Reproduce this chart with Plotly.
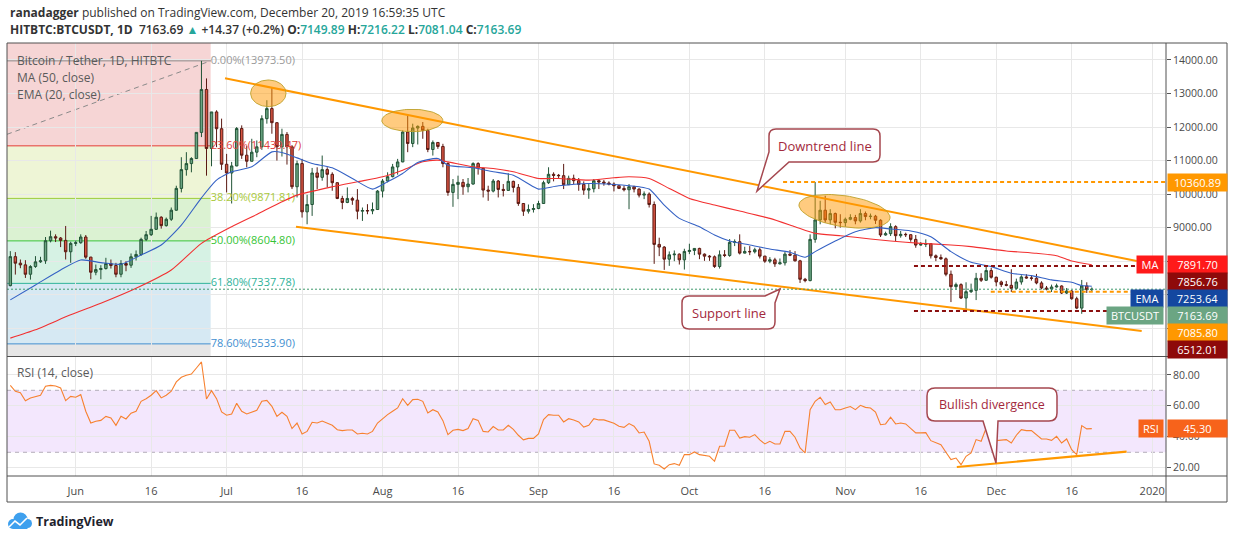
import numpy as np
import pandas as pd
import plotly.graph_objects as go

# ---- data (HITBTC BTCUSDT, daily) ----
first_day = "2019-05-19"

open_ = [
    7270, 8135, 7940, 7890, 7610, 7840, 7980, 8010, 8610, 8730, 8690, 8620, 8280,
    8530, 8550, 8720, 8120, 7670, 7750, 7780, 7930, 7870, 7610, 7930, 7880, 8130, 8200, 8650,
    8790, 8950, 9310, 9060, 9250, 9520, 10170, 10730, 10910, 11060, 11840, 13120, 11360, 12450, 11950,
    10890, 10630, 10840, 11955, 11160, 10980, 11250, 11410, 12250, 12550, 12130, 11410, 11780, 11410, 10220,
    10910, 9470, 9690, 10630, 10500, 10730, 10590, 10340, 9870, 9750, 9870, 9820, 9490, 9510, 9500, 9540,
    10090, 10390, 10520, 10810, 10960, 11850, 11510, 11970, 12020, 11900, 11330, 11540, 11420, 10910, 10050,
    10290, 10350, 10220, 10300, 10910, 10770, 10120, 10090, 10390, 10140, 10110, 10380, 10200, 9720, 9490, 9540,
    9570, 9720, 10340, 10590, 10560, 10550, 10280, 10470, 10400, 10290, 10120, 10160, 10400, 10360, 10330,
    10300, 10250, 10170, 10130, 10220, 10150, 9970, 10000, 9690, 8500, 8420, 8060, 8190, 8210, 8040,
    8290, 8320, 8380, 8210, 8150, 8130, 7840, 8190, 8170, 8560, 8580, 8240, 8290, 8280, 8340,
    8150, 8000, 8040, 7920, 7950, 8210, 8180, 8010, 7460, 7420, 8650, 9230, 9520, 9230, 9420, 9160,
    9150, 9250, 9300, 9200, 9420, 9330, 9340, 9220, 8780, 8820, 9030, 8760, 8800, 8790, 8650,
    8480, 8500, 8520, 8160, 8110, 8070, 7610, 7240, 7300, 6900, 7090, 7130, 7490, 7430, 7720,
    7520, 7380, 7300, 7280, 7190, 7380, 7530, 7500, 7490, 7350, 7200, 7170, 7230, 7260, 7050,
    7110, 6880, 6600, 7260, 7149.89,
]
high = [
    8300, 8270, 8050, 8030, 7880, 8150, 8130, 8720, 8910, 8800, 8720, 9050, 8580,
    8620, 8800, 8780, 8130, 7900, 7880, 8100, 8050, 7950, 8030, 8000, 8230, 8320, 8700, 8900,
    9350, 9450, 9340, 9300, 9600, 10250, 11100, 11250, 11100, 11850, 13973.5, 13450, 12450, 12500, 12250,
    11200, 10960, 12000, 12050, 11430, 11650, 11600, 12350, 12800, 13163, 12140, 11950, 11850, 11460, 11000,
    11050, 9980, 10780, 10800, 11150, 10800, 10650, 10350, 9950, 10200, 9920, 10150, 9600, 9700, 9750, 10120,
    10450, 10650, 10900, 11050, 11900, 12350, 12100, 12050, 12150, 11950, 11600, 11550, 11500, 10950, 10450,
    10550, 10450, 10480, 10950, 10950, 10780, 10250, 10450, 10420, 10300, 10620, 10400, 10300, 9730, 9690, 9700,
    9800, 10400, 10800, 10650, 10600, 10900, 10550, 10580, 10480, 10380, 10300, 10450, 10450, 10420, 10380,
    10350, 10270, 10250, 10300, 10250, 10170, 10080, 10050, 9780, 8700, 8450, 8290, 8320, 8230, 8370,
    8520, 8390, 8400, 8230, 8180, 8170, 8320, 8330, 8660, 8650, 8800, 8430, 8450, 8400, 8410,
    8160, 8120, 8100, 8080, 8280, 8330, 8300, 8040, 7500, 8800, 10360.89, 9800, 9950, 9550, 9450, 9400,
    9300, 9400, 9380, 9550, 9480, 9420, 9380, 9250, 8880, 9130, 9070, 8900, 8850, 8800, 8780,
    8570, 8650, 8530, 8200, 8200, 8110, 7720, 7360, 7340, 7370, 7330, 7650, 7640, 7880, 7800,
    7540, 7420, 7410, 7760, 7480, 7580, 7610, 7560, 7620, 7400, 7260, 7300, 7330, 7280, 7200,
    7140, 6940, 7440, 7370, 7216.22,
]
low = [
    7250, 7600, 7790, 7500, 7450, 7800, 7950, 7920, 8560, 8570, 8420, 8050, 7950,
    8450, 8520, 8070, 7460, 7580, 7460, 7750, 7780, 7520, 7520, 7700, 7800, 8020, 8160, 8600,
    8750, 8930, 8970, 9030, 9200, 9500, 10050, 10550, 10650, 11050, 11700, 10550, 10830, 11400, 10720,
    10050, 9720, 10830, 11050, 10800, 10970, 11100, 11320, 12100, 11800, 11000, 11120, 10880, 10150, 9900,
    9300, 9100, 9350, 10150, 10400, 10200, 10100, 9850, 9550, 9730, 9680, 9250, 9200, 9400, 9400, 9530,
    9900, 10350, 10500, 10580, 10950, 11250, 11400, 11480, 11650, 11250, 11150, 11350, 10800, 9950, 9620,
    9850, 9980, 10050, 10280, 10580, 9900, 9800, 10050, 9900, 9930, 10100, 10050, 9650, 9350, 9420, 9450,
    9550, 9710, 10300, 10380, 10450, 10150, 10270, 10300, 10100, 9980, 9860, 10050, 10150, 10250, 10260,
    10080, 10150, 10080, 9550, 10050, 9900, 9850, 9600, 7920, 8150, 7740, 7860, 8000, 7900, 7750,
    8210, 8180, 8060, 8010, 8010, 7800, 7780, 8120, 8130, 8450, 8200, 8230, 8180, 8230, 8080,
    7950, 7940, 7830, 7900, 7870, 8150, 7990, 7350, 7370, 7400, 8550, 9100, 9150, 9100, 8980, 9000,
    9030, 9220, 9100, 9150, 9220, 9250, 9110, 8720, 8760, 8750, 8600, 8700, 8720, 8580, 8400,
    8460, 8420, 8080, 8000, 8040, 7550, 6780, 7150, 6870, 6512.01, 7050, 6840, 7380, 7410, 7480,
    7250, 7230, 7250, 7080, 7160, 7300, 7480, 7420, 7310, 7160, 7130, 7080, 7210, 7020, 7020,
    6850, 6570, 6430, 7050, 7081.04,
]
close = [
    8135, 7940, 7890, 7610, 7840, 7980, 8010, 8610, 8730, 8690, 8620, 8280, 8530,
    8550, 8720, 8120, 7670, 7750, 7780, 7930, 7870, 7610, 7930, 7880, 8130, 8200, 8650, 8790,
    8950, 9310, 9060, 9250, 9520, 10170, 10730, 10910, 11060, 11840, 13120, 11360, 12450, 11950, 10890,
    10630, 10840, 11955, 11160, 10980, 11250, 11410, 12250, 12550, 12130, 11410, 11780, 11410, 10220, 10910,
    9470, 9690, 10630, 10500, 10730, 10590, 10340, 9870, 9750, 9870, 9820, 9490, 9510, 9500, 9540, 10090,
    10390, 10520, 10810, 10960, 11850, 11510, 11970, 12020, 11900, 11330, 11540, 11420, 10910, 10050, 10290,
    10350, 10220, 10300, 10910, 10770, 10120, 10090, 10390, 10140, 10110, 10380, 10200, 9720, 9490, 9540, 9570,
    9720, 10340, 10590, 10560, 10550, 10280, 10470, 10400, 10290, 10120, 10160, 10400, 10360, 10330, 10300,
    10250, 10170, 10130, 10220, 10150, 9970, 10000, 9690, 8500, 8420, 8060, 8190, 8210, 8040, 8290,
    8320, 8380, 8210, 8150, 8130, 7840, 8190, 8170, 8560, 8580, 8240, 8290, 8280, 8340, 8150,
    8000, 8040, 7920, 7950, 8210, 8180, 8010, 7460, 7420, 8650, 9230, 9520, 9230, 9420, 9160, 9150,
    9250, 9300, 9200, 9420, 9330, 9340, 9220, 8780, 8820, 9030, 8760, 8800, 8790, 8650, 8480,
    8500, 8520, 8160, 8110, 8070, 7610, 7240, 7300, 6900, 7090, 7130, 7490, 7430, 7720, 7520,
    7380, 7300, 7280, 7190, 7380, 7530, 7500, 7490, 7350, 7200, 7170, 7230, 7260, 7050, 7110,
    6880, 6600, 7260, 7150, 7163.69,
]
rsi = [
    73.2, 69.4, 68.5, 63.3, 65.1, 66.1, 66.8, 72.6, 73.2, 72.8, 71.5, 63.3, 66.1,
    65.5, 67.2, 56.5, 48.9, 50.0, 50.6, 53.2, 52.2, 47.4, 53.2, 51.5, 55.2, 56.5, 62.9, 64.6,
    66.8, 69.8, 65.1, 66.8, 69.4, 75.4, 78.4, 79.7, 80.5, 84.4, 88.3, 64.4, 69.8, 64.6, 56.0,
    53.9, 54.7, 61.6, 56.5, 54.7, 55.8, 57.1, 62.9, 63.5, 59.7, 53.2, 55.8, 53.2, 45.3, 48.9,
    41.8, 43.5, 49.4, 48.9, 50.2, 48.9, 47.4, 44.6, 44.0, 44.4, 44.4, 41.8, 42.3, 41.8, 43.5, 48.9,
    51.7, 54.3, 56.5, 58.6, 64.6, 60.3, 64.0, 64.2, 62.9, 55.4, 57.5, 56.0, 50.4, 41.4, 44.2,
    44.8, 44.0, 45.3, 51.7, 50.6, 43.5, 43.1, 46.6, 44.4, 44.4, 47.4, 44.8, 41.0, 38.0, 39.0, 39.0,
    41.8, 51.1, 54.3, 53.9, 53.9, 49.6, 51.7, 50.9, 49.6, 46.3, 47.4, 51.7, 50.9, 50.9, 50.0,
    48.7, 46.8, 46.1, 48.5, 46.8, 42.5, 43.1, 37.1, 22.5, 21.6, 19.2, 22.0, 22.7, 21.6, 28.5,
    28.5, 30.2, 28.5, 28.1, 27.4, 24.2, 33.9, 33.9, 44.2, 44.2, 39.2, 40.1, 39.7, 41.4, 38.0,
    35.4, 37.1, 35.4, 35.4, 43.5, 43.5, 39.7, 32.8, 29.6, 57.5, 62.9, 65.5, 60.8, 62.5, 57.5, 57.5,
    58.6, 59.5, 57.5, 60.3, 59.0, 58.6, 56.0, 47.8, 48.3, 52.6, 48.3, 48.9, 48.3, 45.7, 42.5,
    42.5, 42.7, 37.5, 36.0, 34.9, 30.0, 25.3, 26.3, 22.0, 27.4, 29.6, 38.2, 37.1, 45.7, 39.7,
    37.5, 37.7, 38.2, 36.0, 41.0, 44.6, 44.0, 44.0, 41.4, 38.6, 38.6, 37.7, 40.3, 36.0, 38.6,
    31.7, 28.5, 47.2, 45.1, 45.3,
]

# EMA(20) and MA(50) every few days
ema_dates = ["2019-05-19", "2019-05-24", "2019-05-29", "2019-06-02", "2019-06-06", "2019-06-10",
             "2019-06-14", "2019-06-18", "2019-06-22", "2019-06-26", "2019-06-29", "2019-07-02",
             "2019-07-06", "2019-07-10", "2019-07-12", "2019-07-15", "2019-07-18", "2019-07-22",
             "2019-07-26", "2019-07-30", "2019-08-02", "2019-08-05", "2019-08-08", "2019-08-12",
             "2019-08-14", "2019-08-19", "2019-08-23", "2019-08-27", "2019-08-31", "2019-09-01",
             "2019-09-05", "2019-09-11", "2019-09-16", "2019-09-21", "2019-09-23", "2019-09-26",
             "2019-09-29", "2019-10-03", "2019-10-06", "2019-10-09", "2019-10-13", "2019-10-17",
             "2019-10-21", "2019-10-24", "2019-10-26", "2019-10-30", "2019-11-03", "2019-11-07",
             "2019-11-10", "2019-11-14", "2019-11-18", "2019-11-22", "2019-11-26", "2019-11-30",
             "2019-12-04", "2019-12-08", "2019-12-12", "2019-12-16", "2019-12-18", "2019-12-20"]
ema_vals = [6845, 7292, 7738, 8036, 7957, 7907, 8185, 8482, 9077, 9890, 10417, 10665,
            10813, 11259, 11240, 11080, 10913, 10784, 10466, 10149, 10367, 10615, 10943, 11062,
            10863, 10784, 10665, 10565, 10218, 10149, 10248, 10317, 10288, 10218, 10149, 9673,
            9276, 9028, 8780, 8601, 8482, 8363, 8264, 8115, 8284, 8601, 8880, 9000,
            8960, 8900, 8730, 8284, 7966, 7837, 7639, 7570, 7441, 7371, 7272, 7253.64]

ma_dates = ["2019-05-19", "2019-05-24", "2019-05-31", "2019-06-06", "2019-06-13", "2019-06-20",
            "2019-06-26", "2019-07-02", "2019-07-07", "2019-07-12", "2019-07-15", "2019-07-22",
            "2019-07-27", "2019-08-01", "2019-08-05", "2019-08-09", "2019-08-12", "2019-08-14",
            "2019-08-19", "2019-08-23", "2019-08-27", "2019-09-01", "2019-09-05", "2019-09-11",
            "2019-09-16", "2019-09-19", "2019-09-23", "2019-09-27", "2019-10-01", "2019-10-06",
            "2019-10-11", "2019-10-17", "2019-10-22", "2019-10-26", "2019-10-31", "2019-11-06",
            "2019-11-10", "2019-11-16", "2019-11-22", "2019-11-26", "2019-12-03", "2019-12-09",
            "2019-12-13", "2019-12-16", "2019-12-20"]
ma_vals = [5705, 5953, 6399, 6746, 7193, 7738, 8532, 9028, 9395, 9772, 9970, 10218,
           10367, 10516, 10714, 10962, 11012, 10962, 10813, 10764, 10665, 10466, 10466, 10417,
           10486, 10516, 10466, 10168, 9871, 9673, 9494, 9276, 9028, 8830, 8760, 8661,
           8601, 8532, 8482, 8433, 8304, 8234, 8164, 8006, 7891.70]

fib_pct = ["0.00%", "23.60%", "38.20%", "50.00%", "61.80%", "78.60%"]
fib_lvl = [13973.50, 11439.47, 9871.81, 8604.80, 7337.78, 5533.90]

tick_dates = ["2019-06-01", "2019-06-16", "2019-07-01", "2019-07-16", "2019-08-01", "2019-08-16",
              "2019-09-01", "2019-09-16", "2019-10-01", "2019-10-16", "2019-11-01", "2019-11-16",
              "2019-12-01", "2019-12-16", "2020-01-01"]
tick_text = ["Jun", "16", "Jul", "16", "Aug", "16", "Sep", "16", "Oct", "16", "Nov", "16",
             "Dec", "16", "2020"]

res_high, res_top, sup_a, sup_b = 10360.89, 7856.76, 7085.80, 6512.01
ma_last, ema_last, last_close, rsi_last = 7891.70, 7253.64, 7163.69, 45.30

# ---- geometry ----
W, H = 1234, 540
ML, MR, MT, MB = 7, 68, 43, 64
PW, PH = W - ML - MR, H - MT - MB
X_RANGE = [pd.Timestamp("2019-05-18 08:10"), pd.Timestamp("2020-01-03 18:00")]
P_RANGE = [5172, 14506]
R_RANGE = [14.7, 91.5]
MAIN_DOM = [(476 - 356) / PH, 1.0]
RSI_DOM = [0.0, (476 - 357) / PH]
PX_DAY = PW / ((X_RANGE[1] - X_RANGE[0]) / pd.Timedelta(days=1))
PX_PRICE = (356 - 43) / (P_RANGE[1] - P_RANGE[0])


def pp(px, py):
    return (px - ML) / PW, (H - MB - py) / PH


def svg(cmds):
    out = []
    for c in cmds:
        if c[0] == "Z":
            out.append("Z")
            continue
        pts = []
        for i in range(1, len(c), 2):
            x, y = pp(c[i], c[i + 1])
            pts.append(f"{x:.5f},{y:.5f}")
        out.append(c[0] + " ".join(pts))
    return " ".join(out)


def ellipse(cx, cy, a, b, ang=0.0):
    t = np.linspace(0, 2 * np.pi, 80)
    g = np.deg2rad(ang)
    dx = a * np.cos(t) * np.cos(g) - b * np.sin(t) * np.sin(g)
    dy = a * np.cos(t) * np.sin(g) + b * np.sin(t) * np.cos(g)
    xs = pd.Timestamp(cx) + pd.to_timedelta(dx / PX_DAY, unit="D")
    ys = cy - dy / PX_PRICE
    return xs, ys


dates = pd.date_range(first_day, periods=len(close), freq="D")
fib_end = pd.Timestamp("2019-06-27 20:00")

fig = go.Figure()

# fib labels sit under the candles
fig.add_trace(go.Scatter(
    x=[fib_end] * len(fib_lvl), y=fib_lvl, mode="text",
    text=[f"{p}({v:.2f})" for p, v in zip(fib_pct, fib_lvl)],
    textposition="middle right",
    textfont=dict(size=11, color=["#9a9a9a", "#e0413c", "#a9c93a", "#35c435", "#2fb39a", "#3f8fd0"]),
    hoverinfo="skip", showlegend=False, xaxis="x", yaxis="y"))

fig.add_trace(go.Candlestick(
    x=dates, open=open_, high=high, low=low, close=close,
    increasing=dict(fillcolor="#6ba583", line=dict(color="#225437", width=1)),
    decreasing=dict(fillcolor="#d75442", line=dict(color="#5b1a13", width=1)),
    whiskerwidth=0, hoverinfo="skip", showlegend=False, xaxis="x", yaxis="y"))

fig.add_trace(go.Scatter(x=pd.to_datetime(ma_dates), y=ma_vals, mode="lines",
                         line=dict(color="#f23030", width=1.1, shape="spline", smoothing=0.6),
                         hoverinfo="skip", showlegend=False))
fig.add_trace(go.Scatter(x=pd.to_datetime(ema_dates), y=ema_vals, mode="lines",
                         line=dict(color="#3461c4", width=1.1, shape="spline", smoothing=0.6),
                         hoverinfo="skip", showlegend=False))

# channel lines
fig.add_trace(go.Scatter(x=[pd.Timestamp("2019-06-30 16:20"), pd.Timestamp("2019-12-28 22:30")],
                         y=[13453, 8005], mode="lines", line=dict(color="#ff9800", width=2),
                         hoverinfo="skip", showlegend=False))
fig.add_trace(go.Scatter(x=[pd.Timestamp("2019-07-14 19:00"), pd.Timestamp("2019-12-29 22:00")],
                         y=[9028, 5918], mode="lines", line=dict(color="#ff9800", width=2),
                         hoverinfo="skip", showlegend=False))

# highlighted tops
for cx, cy, a, b, ang in [("2019-07-09 07:00", 13006, 17.7, 13.3, 0),
                          ("2019-08-06 22:00", 12195, 30.5, 11.2, 0),
                          ("2019-10-31 20:00", 9487, 46, 15.5, 8.7)]:
    ex, ey = ellipse(cx, cy, a, b, ang)
    fig.add_trace(go.Scatter(x=ex, y=ey, mode="lines", fill="toself",
                             fillcolor="rgba(255,152,0,0.5)",
                             line=dict(color="rgba(190,160,40,0.9)", width=1),
                             hoverinfo="skip", showlegend=False))

# RSI pane
fig.add_trace(go.Scatter(x=dates, y=rsi, mode="lines", line=dict(color="#f7812f", width=1.1),
                         hoverinfo="skip", showlegend=False, xaxis="x2", yaxis="y2"))
fig.add_trace(go.Scatter(x=[pd.Timestamp("2019-11-23 04:00"), pd.Timestamp("2019-12-26 22:00")],
                         y=[20.5, 30.4], mode="lines", line=dict(color="#ff9800", width=2.2),
                         hoverinfo="skip", showlegend=False, xaxis="x2", yaxis="y2"))

shapes = []
# fib zones
zone_cols = ["#f6d5d5", "#eef5d6", "#dbf2d2", "#d6f2e4", "#d6e9f3"]
line_cols = ["#8a8a8a", "#e53935", "#9ccc3a", "#3cc43c", "#2fb39a", "#3f8fd0"]
bounds = fib_lvl + [P_RANGE[0]]
for i in range(len(fib_lvl)):
    col = zone_cols[i] if i < len(zone_cols) else "#e6e6e6"
    top = fib_lvl[i] if i > 0 else P_RANGE[1]
    shapes.append(dict(type="rect", xref="x", yref="y", x0=X_RANGE[0], x1=fib_end,
                       y0=bounds[i + 1], y1=top, fillcolor=col, line=dict(width=0), layer="below"))
for v, c in zip(fib_lvl, line_cols):
    shapes.append(dict(type="line", xref="x", yref="y", x0=X_RANGE[0], x1=fib_end, y0=v, y1=v,
                       line=dict(color=c, width=1), layer="below"))
shapes.append(dict(type="line", xref="x", yref="y", x0=X_RANGE[0], x1=fib_end, y0=11783, y1=fib_lvl[0],
                   line=dict(color="#8a8a8a", width=1, dash="5px,4px"), layer="below"))

# RSI band
shapes.append(dict(type="rect", xref="x2 domain", yref="y2", x0=0, x1=1, y0=30, y1=70,
                   fillcolor="#f3e7fd", line=dict(width=0), layer="below"))
for v in (30, 70):
    shapes.append(dict(type="line", xref="x2 domain", yref="y2", x0=0, x1=1, y0=v, y1=v,
                       line=dict(color="#b3adb9", width=1, dash="4px,4px"), layer="below"))

# horizontal levels
shapes.append(dict(type="line", xref="x domain", yref="y", x0=0, x1=1, y0=last_close, y1=last_close,
                   line=dict(color="#3d9a6c", width=1, dash="2px,2px")))
for x0, v, c in [("2019-10-19 15:00", res_high, "#ff9800"),
                 ("2019-11-14 15:30", res_top, "#8b0f0f"),
                 ("2019-11-14 15:30", sup_b, "#8b0f0f"),
                 ("2019-11-29 22:00", sup_a, "#ff9800")]:
    shapes.append(dict(type="line", xref="x", yref="y", x0=pd.Timestamp(x0), x1=X_RANGE[1], y0=v, y1=v,
                       line=dict(color=c, width=2, dash="4px,3px")))

# callout boxes
CO = dict(type="path", xref="paper", yref="paper", fillcolor="white",
          line=dict(color="#a5474f", width=1.5), layer="above")
x0, y0, x1, y1, r = 769, 129, 880, 162, 7
shapes.append(dict(CO, path=svg([("M", x0 + r, y0), ("L", x1 - r, y0), ("Q", x1, y0, x1, y0 + r),
                                 ("L", x1, y1 - r), ("Q", x1, y1, x1 - r, y1), ("L", 789, y1),
                                 ("L", 757, 191), ("L", x0, 152), ("L", x0, y0 + r),
                                 ("Q", x0, y0, x0 + r, y0), ("Z",)])))
x0, y0, x1, y1 = 682, 296, 775, 329
shapes.append(dict(CO, path=svg([("M", x0 + r, y0), ("L", 765, y0), ("L", 780, 289), ("L", x1, 303),
                                 ("L", x1, y1 - r), ("Q", x1, y1, x1 - r, y1), ("L", x0 + r, y1),
                                 ("Q", x0, y1, x0, y1 - r), ("L", x0, y0 + r),
                                 ("Q", x0, y0, x0 + r, y0), ("Z",)])))
x0, y0, x1, y1, r = 927, 388, 1057, 421, 8
shapes.append(dict(CO, path=svg([("M", x0 + r, y0), ("L", x1 - r, y0), ("Q", x1, y0, x1, y0 + r),
                                 ("L", x1, y1 - r), ("Q", x1, y1, x1 - r, y1), ("L", 998, y1),
                                 ("L", 996, 463), ("L", 983, y1), ("L", x0 + r, y1),
                                 ("Q", x0, y1, x0, y1 - r), ("L", x0, y0 + r),
                                 ("Q", x0, y0, x0 + r, y0), ("Z",)])))

# frame
FR = dict(xref="paper", yref="paper", line=dict(color="#505050", width=1), layer="above")
bx0, by0 = pp(7, 502)
bx1, by1 = pp(1227, 43)
shapes.append(dict(FR, type="rect", x0=bx0, y0=by0, x1=bx1, y1=by1))
shapes.append(dict(FR, type="line", x0=1, x1=1, y0=by0, y1=by1))
for yy in (356.5, 476):
    shapes.append(dict(FR, type="line", x0=bx0, x1=bx1, y0=pp(0, yy)[1], y1=pp(0, yy)[1]))

# TradingView logo
LG = dict(xref="paper", yref="paper", fillcolor="#3ea0ee", line=dict(width=0), layer="above")
for cx, cy, rr in [(13, 524, 5), (20.5, 519.5, 7), (27.5, 523.5, 4.5)]:
    a0, b0 = pp(cx - rr, cy + rr)
    a1, b1 = pp(cx + rr, cy - rr)
    shapes.append(dict(LG, type="circle", x0=a0, y0=b0, x1=a1, y1=b1))
a0, b0 = pp(13, 529)
a1, b1 = pp(27.5, 523)
shapes.append(dict(LG, type="rect", x0=a0, y0=b0, x1=a1, y1=b1))
shapes.append(dict(type="path", xref="paper", yref="paper", layer="above",
                   line=dict(color="white", width=1.6),
                   path=svg([("M", 9, 527), ("L", 15, 521), ("L", 20, 525), ("L", 27, 518)])))

ann = []
TXT = "#4a4a4a"


def note(px, py, text, size=12, color=TXT, xanchor="left", weight="normal"):
    x, y = pp(px, py)
    ann.append(dict(xref="paper", yref="paper", x=x, y=y, text=text, showarrow=False,
                    xanchor=xanchor, yanchor="middle",
                    font=dict(size=size, color=color, weight=weight)))


teal = "#26a69a"
note(8, 12.5, "<b>ranadagger</b> published on TradingView.com, December 20, 2019 16:59:35 UTC",
     size=12, color="#333333")
note(8, 29.5, f"<b>HITBTC:BTCUSDT, 1D</b>  {last_close:.2f} <span style='color:{teal}'>▲</span> "
     f"+14.37 (+0.2%) <b>O:</b><span style='color:{teal}'>{open_[-1]:.2f}</span> "
     f"<b>H:</b><span style='color:{teal}'>{high[-1]:.2f}</span> "
     f"<b>L:</b><span style='color:{teal}'>{low[-1]:.2f}</span> "
     f"<b>C:</b><span style='color:{teal}'>{close[-1]:.2f}</span>",
     size=12, color="#333333", weight=600)
note(15, 60, "Bitcoin / Tether, 1D, HITBTC", size=12, color="#5a5a5a")
note(15, 78, "MA (50, close)", size=12, color="#5a5a5a")
note(15, 95, "EMA (20, close)", size=12, color="#5a5a5a")
note(15, 372, "RSI (14, close)", size=12, color="#5a5a5a")
note(824.5, 145.5, "Downtrend line", size=13, color="#a3293d", xanchor="center")
note(728.5, 312.5, "Support line", size=13, color="#a3293d", xanchor="center")
note(992, 404.5, "Bullish divergence", size=12.5, color="#a3293d", xanchor="center")
note(34, 521.5, "<b>TradingView</b>", size=12.5, color="#1e222d")


def tag(yref, yv, text, bg, k=0, right=True, width=57):
    ann.append(dict(xref="paper", yref=yref, x=1, y=yv, yshift=-17 * k, text=text, showarrow=False,
                    xanchor="left" if right else "right", xshift=1 if right else -2,
                    yanchor="middle", width=width, height=15, bgcolor=bg, borderpad=1, align="center",
                    font=dict(size=11, color="white")))


tag("y", res_high, f"{res_high:.2f}", "#ff9800")
tag("y", ma_last, f"{ma_last:.2f}", "#ff1a1a", 0)
tag("y", ma_last, f"{res_top:.2f}", "#8e0a0a", 1)
tag("y", ma_last, f"{ema_last:.2f}", "#1447a0", 2)
tag("y", ma_last, f"{last_close:.2f}", "#6ba583", 3)
tag("y", ma_last, f"{sup_a:.2f}", "#ff9800", 4)
tag("y", ma_last, f"{sup_b:.2f}", "#8e0a0a", 5)
tag("y", ma_last, "MA", "#ff1a1a", 0, right=False, width=24)
tag("y", ma_last, "EMA", "#1447a0", 2, right=False, width=30)
tag("y", ma_last, "BTCUSDT", "#6ba583", 3, right=False, width=54)
tag("y2", rsi_last, f"{rsi_last:.2f}", "#f7631b")
tag("y2", rsi_last, "RSI", "#f7631b", right=False, width=22)

grid = "#e8e8e8"
price_ticks = list(range(6000, 14001, 1000))
fig.update_layout(
    width=W, height=H, margin=dict(l=ML, r=MR, t=MT, b=MB),
    paper_bgcolor="white", plot_bgcolor="white",
    font=dict(family="Open Sans, Liberation Sans, sans-serif", color=TXT),
    showlegend=False, shapes=shapes, annotations=ann,
    xaxis=dict(type="date", range=X_RANGE, domain=[0, 1], anchor="y", tickvals=tick_dates,
               showticklabels=False, showgrid=True, gridcolor=grid, zeroline=False,
               rangeslider=dict(visible=False), showline=False),
    xaxis2=dict(type="date", range=X_RANGE, domain=[0, 1], anchor="y2", matches="x",
                tickvals=tick_dates, ticktext=tick_text, ticks="outside", ticklen=5,
                tickcolor="rgba(0,0,0,0)", tickfont=dict(size=11, color=TXT),
                showgrid=True, gridcolor=grid, zeroline=False, showline=False),
    yaxis=dict(domain=MAIN_DOM, range=P_RANGE, side="right", anchor="x",
               tickvals=price_ticks,
               ticktext=[f"{v:.2f}" if v >= 9000 else "" for v in price_ticks],
               ticks="outside", ticklen=4, tickcolor="#555555", tickfont=dict(size=10.5, color=TXT),
               showgrid=True, gridcolor=grid, zeroline=False, showline=False),
    yaxis2=dict(domain=RSI_DOM, range=R_RANGE, side="right", anchor="x2",
                tickvals=[20, 40, 60, 80], ticktext=["20.00", "40.00", "60.00", "80.00"],
                ticks="outside", ticklen=4, tickcolor="#555555", tickfont=dict(size=10.5, color=TXT),
                showgrid=True, gridcolor=grid, zeroline=False, showline=False),
)

# the page's default body margin would shift the figure by 8px
fig.write_html("out.html", config={"displayModeBar": False},
               post_script="document.body.style.margin='0px';")
